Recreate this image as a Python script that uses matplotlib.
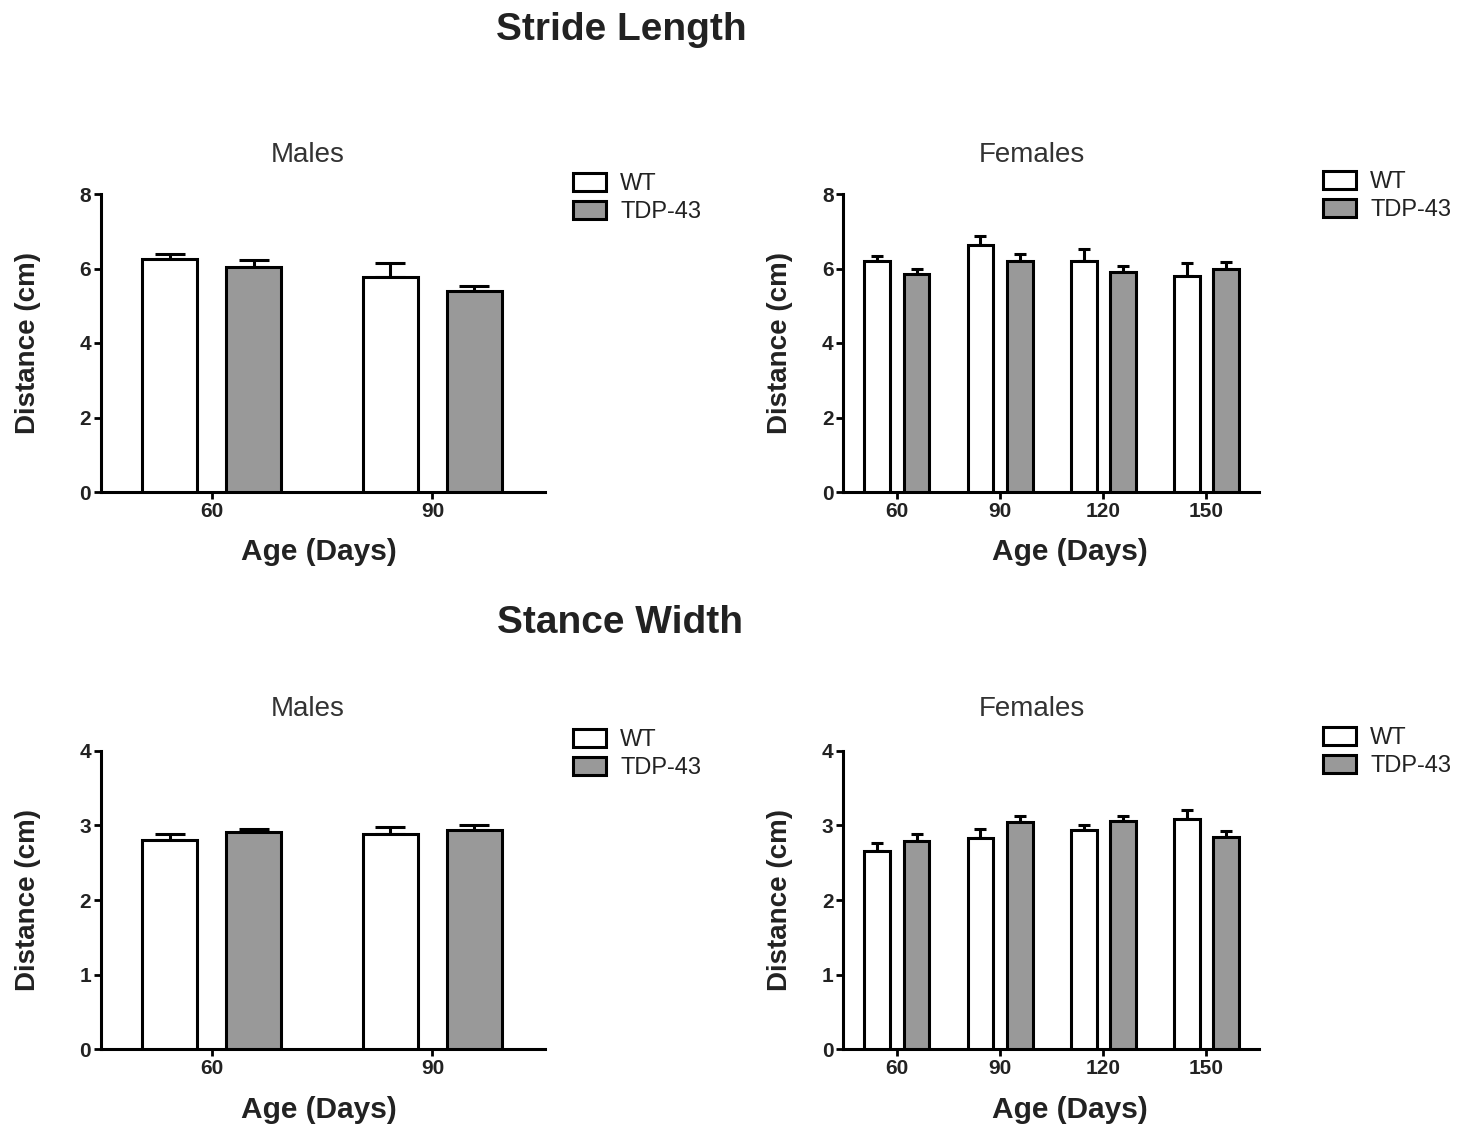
import numpy as np
import matplotlib
matplotlib.use('Agg')
import matplotlib.pyplot as plt
from matplotlib.patches import Patch

plt.rcParams['font.family'] = ['Liberation Sans', 'DejaVu Sans']

# data
male_days = ['60', '90']
female_days = ['60', '90', '120', '150']

stride_male_wt = [6.25, 5.78]
stride_male_wt_err = [0.14, 0.36]
stride_male_tdp = [6.03, 5.40]
stride_male_tdp_err = [0.20, 0.13]

stride_female_wt = [6.20, 6.63, 6.20, 5.80]
stride_female_wt_err = [0.14, 0.25, 0.32, 0.34]
stride_female_tdp = [5.84, 6.20, 5.90, 6.00]
stride_female_tdp_err = [0.15, 0.19, 0.17, 0.18]

stance_male_wt = [2.81, 2.88]
stance_male_wt_err = [0.07, 0.10]
stance_male_tdp = [2.915, 2.94]
stance_male_tdp_err = [0.04, 0.07]

stance_female_wt = [2.66, 2.83, 2.94, 3.08]
stance_female_wt_err = [0.10, 0.12, 0.07, 0.12]
stance_female_tdp = [2.79, 3.04, 3.06, 2.85]
stance_female_tdp_err = [0.09, 0.09, 0.07, 0.08]

W, H = 1463, 1127
fig = plt.figure(figsize=(W / 100, H / 100), dpi=100)

GRAY = '#999999'
LW = 2.2


def px_axes(x0, y0, x1, y1):
    # pixel box (top-left origin) -> figure axes
    return fig.add_axes([x0 / W, 1 - y1 / H, (x1 - x0) / W, (y1 - y0) / H])


def panel(ax, days, wt, wt_err, tdp, tdp_err, ymax, yticks, xlim, capsize, xlab_x):
    x = np.arange(len(days))
    bw = 0.25
    off = 0.19
    ax.bar(x - off, wt, bw, color='white', edgecolor='black', linewidth=LW, zorder=3)
    ax.bar(x + off, tdp, bw, color=GRAY, edgecolor='black', linewidth=LW, zorder=3)
    ax.errorbar(x - off, wt, yerr=[np.zeros(len(wt)), wt_err], fmt='none',
                ecolor='black', elinewidth=LW, capsize=capsize, capthick=LW, zorder=2)
    ax.errorbar(x + off, tdp, yerr=[np.zeros(len(tdp)), tdp_err], fmt='none',
                ecolor='black', elinewidth=LW, capsize=capsize, capthick=LW, zorder=2)
    ax.set_xlim(*xlim)
    ax.set_ylim(0, ymax)
    ax.set_yticks(yticks)
    ax.set_xticks(x)
    ax.set_xticklabels(days)
    for s in ['top', 'right']:
        ax.spines[s].set_visible(False)
    for s in ['left', 'bottom']:
        ax.spines[s].set_linewidth(LW)
    ax.tick_params(axis='both', direction='out', length=5, width=2, pad=2,
                   labelsize=15, labelcolor='#222222')
    for lab in ax.get_xticklabels() + ax.get_yticklabels():
        lab.set_fontweight('bold')
    ax.set_ylabel('Distance (cm)', fontsize=20, fontweight='bold', color='#222222')
    ax.set_xlabel('Age (Days)', fontsize=21.5, fontweight='bold', color='#222222')
    ax.yaxis.set_label_coords(-0.135 if len(days) == 2 else -0.12, 0.5)
    ax.xaxis.set_label_coords(xlab_x, -0.155)


def legend(ax, x_px, y_px):
    handles = [Patch(facecolor='white', edgecolor='black', linewidth=LW),
               Patch(facecolor=GRAY, edgecolor='black', linewidth=LW)]
    ax.legend(handles, ['WT', 'TDP-43'], loc='upper left',
              bbox_to_anchor=(x_px / W, 1 - y_px / H), bbox_transform=fig.transFigure,
              frameon=False, fontsize=17, handlelength=1.4, handleheight=0.8,
              handletextpad=0.6, labelspacing=0.25, borderpad=0, borderaxespad=0,
              labelcolor='#222222')


ax1 = px_axes(100.7, 194, 545, 492)
panel(ax1, male_days, stride_male_wt, stride_male_wt_err, stride_male_tdp,
      stride_male_tdp_err, 8, [0, 2, 4, 6, 8], (-0.503, 1.51), 10.5, 0.49)
legend(ax1, 573, 173)

ax2 = px_axes(843.3, 194, 1259, 492)
panel(ax2, female_days, stride_female_wt, stride_female_wt_err, stride_female_tdp,
      stride_female_tdp_err, 8, [0, 2, 4, 6, 8], (-0.52, 3.51), 4.6, 0.545)
legend(ax2, 1323, 171)

ax3 = px_axes(100.7, 750.7, 545, 1049.3)
panel(ax3, male_days, stance_male_wt, stance_male_wt_err, stance_male_tdp,
      stance_male_tdp_err, 4, [0, 1, 2, 3, 4], (-0.503, 1.51), 10.5, 0.49)
legend(ax3, 573, 729)

ax4 = px_axes(843.3, 750.7, 1259, 1049.3)
panel(ax4, female_days, stance_female_wt, stance_female_wt_err, stance_female_tdp,
      stance_female_tdp_err, 4, [0, 1, 2, 3, 4], (-0.52, 3.51), 4.6, 0.545)
legend(ax4, 1323, 727)

# titles
fig.text(621 / W, 1 - 30 / H, 'Stride Length', ha='center', va='center',
         fontsize=28, fontweight='bold', color='#222222')
fig.text(620 / W, 1 - 623 / H, 'Stance Width', ha='center', va='center',
         fontsize=28, fontweight='bold', color='#222222')
for xp, yp, t in [(308, 155, 'Males'), (1032, 155, 'Females'),
                  (308, 709, 'Males'), (1032, 709, 'Females')]:
    fig.text(xp / W, 1 - yp / H, t, ha='center', va='center', fontsize=20, color='#333333')

fig.savefig('out.png', dpi=100)
